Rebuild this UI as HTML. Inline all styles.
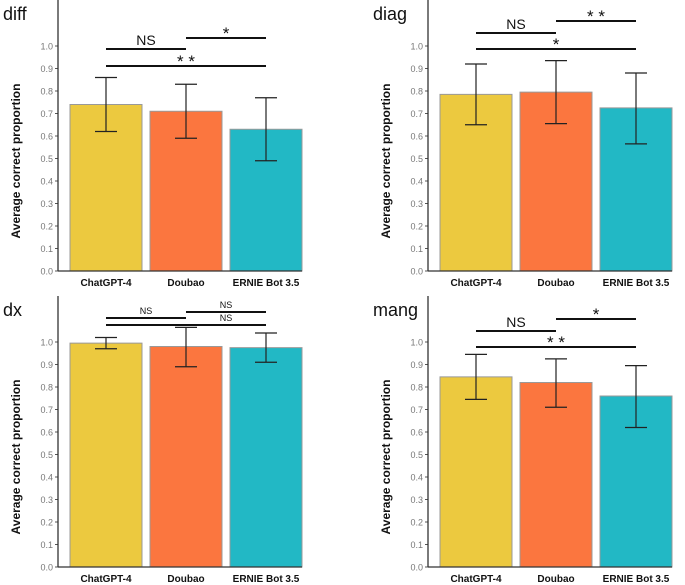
<!DOCTYPE html>
<html><head><meta charset="utf-8"><style>
html,body{margin:0;padding:0;background:#fff;overflow:hidden;width:685px;height:585px;}
svg{display:block;font-family:"Liberation Sans",Arial,sans-serif;}
</style></head><body>
<svg id="c" width="685" height="585" viewBox="0 0 685 585"></svg>
<script>
const categories=["ChatGPT-4","Doubao","ERNIE Bot 3.5"];
const colors=["#ecc93f","#fb763f","#22b8c5"];
const panelTitles=["diff","diag","dx","mang"];
const meanDiff=[0.74,0.71,0.63];
const lowDiff=[0.62,0.59,0.49];
const highDiff=[0.86,0.83,0.77];
const meanDiag=[0.785,0.795,0.725];
const lowDiag=[0.65,0.655,0.565];
const highDiag=[0.92,0.935,0.88];
const meanDx=[0.995,0.98,0.975];
const lowDx=[0.97,0.89,0.91];
const highDx=[1.02,1.065,1.04];
const meanMang=[0.845,0.82,0.76];
const lowMang=[0.745,0.71,0.62];
const highMang=[0.945,0.925,0.895];
const tickLabels=["0.0","0.1","0.2","0.3","0.4","0.5","0.6","0.7","0.8","0.9","1.0"];
const sigDiff=[["NS",0,1,49],["*",1,2,38],["**",0,2,66]];
const sigDiag=[["NS",0,1,33],["**",1,2,21],["*",0,2,49]];
const sigDx=[["NS",0,1,318],["NS",1,2,312],["NS",0,2,325,1.5]];
const sigMang=[["NS",0,1,331],["*",1,2,319],["**",0,2,347]];

const NS="http://www.w3.org/2000/svg";
const svg=document.getElementById('c');
function mk(tag,attrs,parent){const e=document.createElementNS(NS,tag);for(const k in attrs)e.setAttribute(k,attrs[k]);(parent||svg).appendChild(e);return e;}

function panel(idx,ax,zeroY,mean,low,high,sig,small){
  const g=mk('g',{});
  
  
  const y=v=>zeroY-v*225;
  const bx=i=>ax+12+i*80;
  const cx=i=>bx(i)+36;
  const t=mk('text',{x:ax-55,y:zeroY-251,'font-size':18,fill:'#111'},g);t.textContent=panelTitles[idx];
  
  
  const yl=mk('text',{transform:`translate(${ax-38},${zeroY-110}) rotate(-90)`,'text-anchor':'middle','font-size':12,'font-weight':'bold',fill:'#111'},g);
  yl.textContent='Average correct proportion';
  
  
  tickLabels.forEach((l,i)=>{
    const v=i/10;
    const tt=mk('text',{x:ax-5,y:y(v)+3.5,'text-anchor':'end','font-size':9,fill:'#777'},g);tt.textContent=l;
    
    
    mk('line',{x1:ax-3,x2:ax,y1:y(v),y2:y(v),stroke:'#555'},g);
  });
  categories.forEach((c,i)=>{
    const r=mk('rect',{x:bx(i),y:y(mean[i]),width:72,height:y(0)-y(mean[i]),fill:colors[i],stroke:'#999','stroke-width':1},g);
    
    
    const eg=mk('g',{stroke:'#222','stroke-width':1.2},g);
    
    
    mk('line',{x1:cx(i),x2:cx(i),y1:y(high[i]),y2:y(low[i])},eg);
    mk('line',{x1:cx(i)-11,x2:cx(i)+11,y1:y(high[i]),y2:y(high[i])},eg);
    mk('line',{x1:cx(i)-11,x2:cx(i)+11,y1:y(low[i]),y2:y(low[i])},eg);
    const xl=mk('text',{x:cx(i),y:zeroY+15,'text-anchor':'middle','font-size':10,'font-weight':'bold',fill:'#111'},g);xl.textContent=c;
    
    
  });
  mk('line',{x1:ax,x2:ax,y1:zeroY-271,y2:zeroY,stroke:'#333','stroke-width':1.3},g);
  mk('line',{x1:ax,x2:ax+244,y1:zeroY,y2:zeroY,stroke:'#333','stroke-width':1.3},g);
  sig.forEach(s=>{
    const yy=s[3];
    const x1=cx(s[1]),x2=cx(s[2]);
    const lx=s.length>4?(cx(Math.floor(s[4]))+cx(Math.ceil(s[4])))/2:(x1+x2)/2;
    mk('line',{x1:x1,x2:x2,y1:yy,y2:yy,stroke:'#111','stroke-width':2},g);
    const st=mk('text',{x:lx,y:yy-(small?4:(s[0]=='NS'?4:-1)),'text-anchor':'middle','font-size':small?9:(s[0]=='NS'?14:17),fill:'#111'},g);
    st.textContent=s[0].indexOf('*')>=0?s[0].split('').join(' '):s[0];
    
    
  });
}
panel(0,58,271,meanDiff,lowDiff,highDiff,sigDiff,false);
panel(1,428,271,meanDiag,lowDiag,highDiag,sigDiag,false);
panel(2,58,567,meanDx,lowDx,highDx,sigDx,true);
panel(3,428,567,meanMang,lowMang,highMang,sigMang,false);
</script>
</body></html>
